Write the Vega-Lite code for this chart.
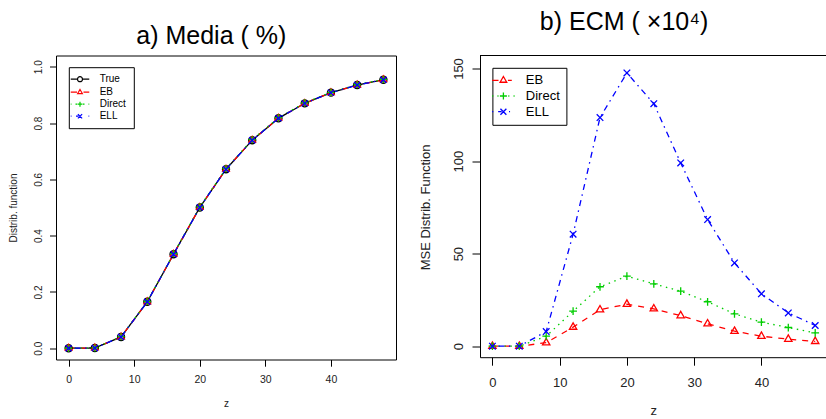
{
 "$schema": "https://vega.github.io/schema/vega-lite/v6.json",
 "background": "white",
 "padding": {"left": 8, "top": 9.5, "right": 0, "bottom": 0},
 "spacing": 22,
 "config": {
  "font": "Liberation Sans",
  "view": {"stroke": "black", "strokeWidth": 1},
  "axis": {"grid": false, "domain": false, "ticks": true, "tickColor": "black", "tickWidth": 1, "labelColor": "#222", "titleColor": "#222", "titleFontWeight": "normal", "labelFlush": false, "labelOverlap": false, "labelFont": "Liberation Sans", "titleFont": "Liberation Sans"},
  "legend": {"labelFont": "Liberation Sans", "labelColor": "#000"}
 },
 "datasets": {
  "a": [
   {"z":0,"s":"True","v":0},{"z":0,"s":"EB","v":0},{"z":0,"s":"Direct","v":0},{"z":0,"s":"ELL","v":0},
   {"z":4,"s":"True","v":0.001},{"z":4,"s":"EB","v":0.001},{"z":4,"s":"Direct","v":0.001},{"z":4,"s":"ELL","v":0.001},
   {"z":8,"s":"True","v":0.04},{"z":8,"s":"EB","v":0.04},{"z":8,"s":"Direct","v":0.041},{"z":8,"s":"ELL","v":0.04},
   {"z":12,"s":"True","v":0.165},{"z":12,"s":"EB","v":0.165},{"z":12,"s":"Direct","v":0.166},{"z":12,"s":"ELL","v":0.165},
   {"z":16,"s":"True","v":0.334},{"z":16,"s":"EB","v":0.334},{"z":16,"s":"Direct","v":0.336},{"z":16,"s":"ELL","v":0.334},
   {"z":20,"s":"True","v":0.5},{"z":20,"s":"EB","v":0.5},{"z":20,"s":"Direct","v":0.502},{"z":20,"s":"ELL","v":0.5},
   {"z":24,"s":"True","v":0.636},{"z":24,"s":"EB","v":0.636},{"z":24,"s":"Direct","v":0.638},{"z":24,"s":"ELL","v":0.636},
   {"z":28,"s":"True","v":0.739},{"z":28,"s":"EB","v":0.739},{"z":28,"s":"Direct","v":0.741},{"z":28,"s":"ELL","v":0.739},
   {"z":32,"s":"True","v":0.817},{"z":32,"s":"EB","v":0.817},{"z":32,"s":"Direct","v":0.819},{"z":32,"s":"ELL","v":0.817},
   {"z":36,"s":"True","v":0.870},{"z":36,"s":"EB","v":0.870},{"z":36,"s":"Direct","v":0.872},{"z":36,"s":"ELL","v":0.870},
   {"z":40,"s":"True","v":0.908},{"z":40,"s":"EB","v":0.908},{"z":40,"s":"Direct","v":0.909},{"z":40,"s":"ELL","v":0.908},
   {"z":44,"s":"True","v":0.935},{"z":44,"s":"EB","v":0.935},{"z":44,"s":"Direct","v":0.936},{"z":44,"s":"ELL","v":0.935},
   {"z":48,"s":"True","v":0.954},{"z":48,"s":"EB","v":0.954},{"z":48,"s":"Direct","v":0.955},{"z":48,"s":"ELL","v":0.954}
  ],
  "b": [
   {"z":0,"s":"EB","v":0},{"z":0,"s":"Direct","v":0},{"z":0,"s":"ELL","v":0},
   {"z":4,"s":"EB","v":0},{"z":4,"s":"Direct","v":0},{"z":4,"s":"ELL","v":0},
   {"z":8,"s":"EB","v":1.9},{"z":8,"s":"Direct","v":5.4},{"z":8,"s":"ELL","v":7.9},
   {"z":12,"s":"EB","v":10.3},{"z":12,"s":"Direct","v":18.9},{"z":12,"s":"ELL","v":60.5},
   {"z":16,"s":"EB","v":19.7},{"z":16,"s":"Direct","v":32.1},{"z":16,"s":"ELL","v":123.5},
   {"z":20,"s":"EB","v":22.7},{"z":20,"s":"Direct","v":37.8},{"z":20,"s":"ELL","v":147.6},
   {"z":24,"s":"EB","v":20.2},{"z":24,"s":"Direct","v":33.7},{"z":24,"s":"ELL","v":131.0},
   {"z":28,"s":"EB","v":16.5},{"z":28,"s":"Direct","v":29.7},{"z":28,"s":"ELL","v":99.0},
   {"z":32,"s":"EB","v":12.1},{"z":32,"s":"Direct","v":24.0},{"z":32,"s":"ELL","v":68.4},
   {"z":36,"s":"EB","v":8.1},{"z":36,"s":"Direct","v":17.5},{"z":36,"s":"ELL","v":45.0},
   {"z":40,"s":"EB","v":5.4},{"z":40,"s":"Direct","v":13.0},{"z":40,"s":"ELL","v":28.3},
   {"z":44,"s":"EB","v":3.8},{"z":44,"s":"Direct","v":10.1},{"z":44,"s":"ELL","v":18.0},
   {"z":48,"s":"EB","v":2.6},{"z":48,"s":"Direct","v":7.2},{"z":48,"s":"ELL","v":11.2}
  ]
 },
 "resolve": {
  "scale": {"x": "independent", "y": "independent", "color": "independent", "shape": "independent", "strokeDash": "independent"},
  "legend": {"color": "independent", "shape": "independent", "strokeDash": "independent"}
 },
 "hconcat": [
  {
   "width": 340, "height": 304,
   "data": {"name": "a"},
   "title": {"text": "a) Media ( %)", "fontSize": 25, "fontWeight": "normal", "font": "Liberation Sans", "color": "#000", "anchor": "middle", "baseline": "alphabetic", "offset": 0, "dy": 13.6, "dx": -14.7},
   "resolve": {"scale": {"color": "independent", "shape": "independent"}},
   "encoding": {
    "x": {"field": "z", "type": "quantitative", "scale": {"domain": [-1.92, 49.92], "nice": false, "zero": false},
     "axis": {"values": [0, 10, 20, 30, 40], "title": "z", "tickSize": 6.7, "labelFontSize": 10.5, "labelBaseline": "alphabetic", "labelPadding": 16.1, "titleFontSize": 10, "titleBaseline": "alphabetic", "titleY": 46.7}},
    "y": {"field": "v", "type": "quantitative", "scale": {"domain": [-0.04, 1.04], "nice": false, "zero": false},
     "axis": {"values": [0, 0.2, 0.4, 0.6, 0.8, 1], "format": ".1f", "title": "Distrib. function", "tickSize": 6.5, "labelAngle": -90, "labelAlign": "center", "labelBaseline": "alphabetic", "labelPadding": 8, "labelFontSize": 10, "titleFontSize": 10, "titleAngle": -90, "titleAlign": "center", "titleBaseline": "alphabetic", "titleX": -39.2, "titleY": 152}}
   },
   "layer": [
    {
     "mark": {"type": "line", "strokeWidth": 1.3},
     "encoding": {
      "color": {"field": "s", "type": "nominal", "scale": {"domain": ["EB", "Direct", "ELL", "True"], "range": ["#ff0000", "#00cd00", "#0000ff", "#000000"]}, "legend": null},
      "strokeDash": {"field": "s", "type": "nominal", "scale": {"domain": ["EB", "Direct", "ELL", "True"], "range": [[6, 6], [1.5, 4.5], [1.5, 4.5, 6, 4.5], [1, 0]]}, "legend": null}
     }
    },
    {
     "mark": {"type": "point", "filled": false, "strokeWidth": 1.3, "size": 50, "opacity": 1},
     "encoding": {
      "color": {"field": "s", "type": "nominal", "scale": {"domain": ["EB", "Direct", "ELL", "True"], "range": ["#ff0000", "#00cd00", "#0000ff", "#000000"]}, "legend": null},
      "shape": {"field": "s", "type": "nominal", "legend": null,
       "scale": {"domain": ["EB", "Direct", "ELL", "True"], "range": ["M0,-1.1L0.95,0.55L-0.95,0.55Z", "M-1,0L1,0M0,-1L0,1", "M-0.85,-0.85L0.85,0.85M-0.85,0.85L0.85,-0.85", "circle"]}}
     }
    },
    {
     "transform": [{"filter": "datum.z < 0"}],
     "mark": {"type": "point", "filled": false, "strokeWidth": 1.2, "size": 25, "opacity": 1},
     "encoding": {
      "color": {"field": "s", "type": "nominal", "scale": {"domain": ["True", "EB", "Direct", "ELL"], "range": ["#000000", "#ff0000", "#00cd00", "#0000ff"]},
       "legend": {"title": null, "orient": "none", "legendX": 12.8, "legendY": 11.7, "strokeColor": "#000", "fillColor": "#fff", "padding": 7, "cornerRadius": 0, "labelFontSize": 10, "labelColor": "#000", "symbolSize": 25, "symbolStrokeWidth": 1.2, "symbolOffset": -0.8, "labelOffset": 14.7, "rowPadding": 2}},
      "shape": {"field": "s", "type": "nominal",
       "scale": {"domain": ["True", "EB", "Direct", "ELL"], "range": [
        "M-3.7,0L-1,0M1,0L3.7,0M1,0A1,1,0,1,1,-1,0A1,1,0,1,1,1,0",
        "M-3.7,0L-1.2,0M1.4,0L3.7,0M0,-1.1L0.95,0.55L-0.95,0.55Z",
        "M-3.7,0L-3.4,0M-1.8,0L-1.2,0M1.2,0L1.8,0M3.4,0L3.7,0M-1,0L1,0M0,-1L0,1",
        "M-3.7,0L-3.4,0M-1.6,0L-0.6,0M3.4,0L3.7,0M-0.85,-0.85L0.85,0.85M-0.85,0.85L0.85,-0.85"]},
       "legend": {"title": null, "orient": "none", "legendX": 12.8, "legendY": 11.7, "strokeColor": "#000", "fillColor": "#fff", "padding": 7, "cornerRadius": 0, "labelFontSize": 10, "labelColor": "#000", "symbolSize": 25, "symbolStrokeWidth": 1.2, "symbolOffset": -0.8, "labelOffset": 14.7, "rowPadding": 2}}
     }
    }
   ]
  },
  {
   "width": 346.5, "height": 301.7,
   "data": {"name": "b"},
   "view": {"stroke": null},
   "title": {"text": "b) ECM ( ×10⁴)", "fontSize": 25, "fontWeight": "normal", "font": "Liberation Sans", "color": "#000", "anchor": "middle", "baseline": "alphabetic", "offset": 0, "dy": 0, "dx": -29.2},
   "resolve": {"scale": {"color": "independent", "shape": "independent"}},
   "encoding": {
    "y": {"field": "v", "type": "quantitative", "scale": {"domain": [-5.94, 157.02], "nice": false, "zero": false},
     "axis": {"values": [0, 50, 100, 150], "title": "MSE Distrib. Function", "domain": true, "domainColor": "#000", "tickSize": 8, "labelAngle": -90, "labelAlign": "center", "labelBaseline": "alphabetic", "labelPadding": 9.6, "labelFontSize": 13, "titleFontSize": 13, "titleAngle": -90, "titleAlign": "center", "titleBaseline": "alphabetic", "titleX": -50.6, "titleY": 151.5}}
   },
   "layer": [
    {
     "mark": {"type": "rule", "color": "#000", "strokeWidth": 1},
     "encoding": {"y": {"datum": 157.02}}
    },
    {
     "mark": {"type": "line", "strokeWidth": 1.3},
     "encoding": {
      "x": {"field": "z", "type": "quantitative", "scale": {"domain": [-1.844, 49.68], "nice": false, "zero": false},
       "axis": {"values": [0, 10, 20, 30, 40], "title": "z", "domain": true, "domainColor": "#000", "tickSize": 8, "labelFontSize": 13, "labelBaseline": "alphabetic", "labelPadding": 21.7, "titleFontSize": 13, "titleBaseline": "alphabetic", "titleY": 57}},
      "color": {"field": "s", "type": "nominal", "scale": {"domain": ["Direct", "ELL", "EB"], "range": ["#00cd00", "#0000ff", "#ff0000"]}, "legend": null},
      "strokeDash": {"field": "s", "type": "nominal", "scale": {"domain": ["Direct", "ELL", "EB"], "range": [[1.5, 4.5], [1.5, 4.5, 6, 4.5], [6, 6]]}, "legend": null}
     }
    },
    {
     "mark": {"type": "point", "filled": false, "strokeWidth": 1.3, "size": 60, "opacity": 1},
     "encoding": {
      "x": {"field": "z", "type": "quantitative", "scale": {"domain": [-1.844, 49.68], "nice": false, "zero": false},
       "axis": {"values": [0, 10, 20, 30, 40], "title": "z", "domain": true, "domainColor": "#000", "tickSize": 8, "labelFontSize": 13, "labelBaseline": "alphabetic", "labelPadding": 21.7, "titleFontSize": 13, "titleBaseline": "alphabetic", "titleY": 57}},
      "color": {"field": "s", "type": "nominal", "scale": {"domain": ["Direct", "ELL", "EB"], "range": ["#00cd00", "#0000ff", "#ff0000"]}, "legend": null},
      "shape": {"field": "s", "type": "nominal", "legend": null,
       "scale": {"domain": ["Direct", "ELL", "EB"], "range": ["M-1,0L1,0M0,-1L0,1", "M-0.85,-0.85L0.85,0.85M-0.85,0.85L0.85,-0.85", "M0,-1.1L0.95,0.55L-0.95,0.55Z"]}}
     }
    },
    {
     "transform": [{"filter": "datum.z < 0"}],
     "mark": {"type": "point", "filled": false, "strokeWidth": 1.3, "size": 49, "opacity": 1},
     "encoding": {
      "x": {"field": "z", "type": "quantitative", "scale": {"domain": [-1.844, 49.68], "nice": false, "zero": false},
       "axis": {"values": [0, 10, 20, 30, 40], "title": "z", "domain": true, "domainColor": "#000", "tickSize": 8, "labelFontSize": 13, "labelBaseline": "alphabetic", "labelPadding": 21.7, "titleFontSize": 13, "titleBaseline": "alphabetic", "titleY": 57}},
      "color": {"field": "s", "type": "nominal", "scale": {"domain": ["EB", "Direct", "ELL"], "range": ["#ff0000", "#00cd00", "#0000ff"]},
       "legend": {"title": null, "orient": "none", "legendX": 12.4, "legendY": 12.3, "strokeColor": "#000", "fillColor": "#fff", "padding": 6, "cornerRadius": 0, "labelFontSize": 13, "labelColor": "#000", "symbolSize": 49, "symbolStrokeWidth": 1.3, "symbolOffset": -1.5, "labelOffset": 15.9, "rowPadding": 1.7}},
      "shape": {"field": "s", "type": "nominal",
       "scale": {"domain": ["EB", "Direct", "ELL"], "range": [
        "M-3.2,0L-1.4,0M1.3,0L2.4,0M0,-1.1L0.95,0.55L-0.95,0.55Z",
        "M-3.2,0L-2.9,0M-1.7,0L-1.4,0M1.4,0L1.7,0M2.9,0L3.2,0M-1,0L1,0M0,-1L0,1",
        "M-3.2,0L-2.9,0M-1.5,0L-0.5,0M1.6,0L1.9,0M-0.85,-0.85L0.85,0.85M-0.85,0.85L0.85,-0.85"]},
       "legend": {"title": null, "orient": "none", "legendX": 12.4, "legendY": 12.3, "strokeColor": "#000", "fillColor": "#fff", "padding": 6, "cornerRadius": 0, "labelFontSize": 13, "labelColor": "#000", "symbolSize": 49, "symbolStrokeWidth": 1.3, "symbolOffset": -1.5, "labelOffset": 15.9, "rowPadding": 1.7}}
     }
    }
   ]
  }
 ]
}
